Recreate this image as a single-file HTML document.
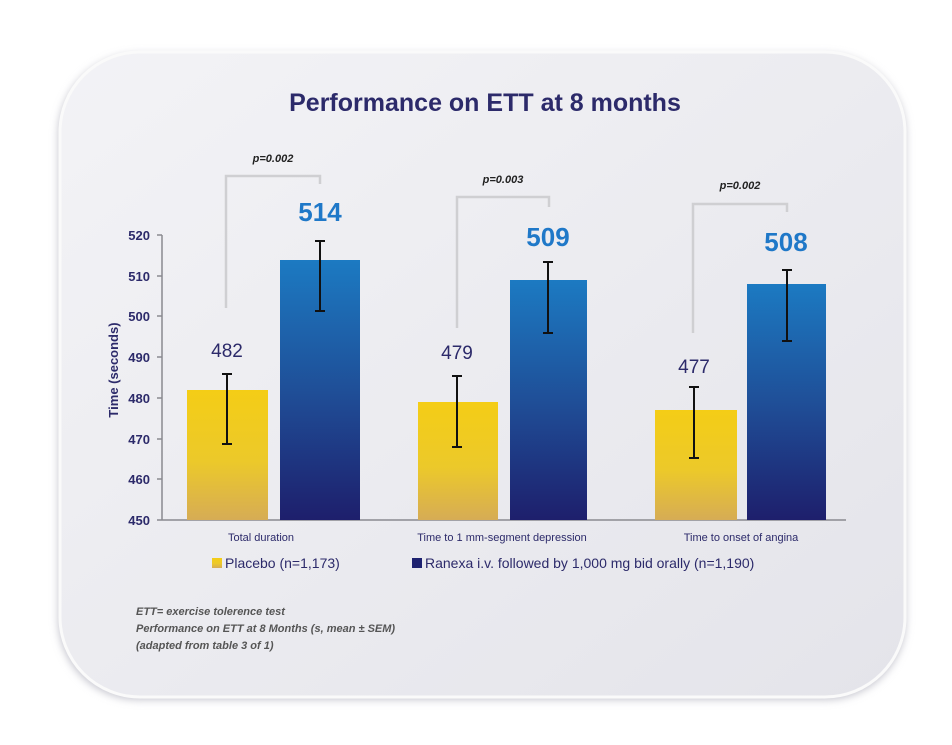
<!DOCTYPE html><html><head><style>body{margin:0;background:#fff}svg{display:block}</style></head><body>
<svg width="952" height="745" xmlns="http://www.w3.org/2000/svg" font-family="Liberation Sans, sans-serif">
<defs>
<linearGradient id="card" x1="0" y1="0" x2="1" y2="1"><stop offset="0" stop-color="#f3f3f6"/><stop offset="1" stop-color="#e4e4ea"/></linearGradient>
<linearGradient id="yel" x1="0" y1="0" x2="0" y2="1"><stop offset="0" stop-color="#f4cd16"/><stop offset="0.55" stop-color="#ecc92a"/><stop offset="1" stop-color="#d6ac55"/></linearGradient>
<linearGradient id="blu" x1="0" y1="0" x2="0" y2="1"><stop offset="0" stop-color="#1c7ac2"/><stop offset="0.5" stop-color="#1f4f98"/><stop offset="1" stop-color="#1e1f6c"/></linearGradient>
<filter id="sh" x="-10%" y="-10%" width="120%" height="120%"><feGaussianBlur stdDeviation="4"/></filter>
</defs>
<rect x="58" y="54" width="848" height="646" rx="80" fill="#c8c8d0" filter="url(#sh)"/>
<rect x="60" y="52" width="845" height="645" rx="80" fill="url(#card)" stroke="#fafafa" stroke-width="3"/>
<text x="485" y="111" text-anchor="middle" font-size="25" font-weight="bold" fill="#2c2a6a">Performance on ETT at 8 months</text>
<g font-size="13" font-weight="bold" fill="#2c2a6a" text-anchor="end">
<text x="150" y="240">520</text><text x="150" y="281">510</text><text x="150" y="321">500</text><text x="150" y="362">490</text><text x="150" y="403">480</text><text x="150" y="444">470</text><text x="150" y="484">460</text><text x="150" y="525">450</text></g>
<text transform="translate(118,370) rotate(-90)" text-anchor="middle" font-size="13" font-weight="bold" fill="#2c2a6a">Time (seconds)</text>
<g stroke="#8a8a90" stroke-width="1.5"><line x1="162" y1="235" x2="162" y2="520"/><line x1="157" y1="520" x2="846" y2="520"/>
<line x1="157" y1="235" x2="162" y2="235"/><line x1="157" y1="276" x2="162" y2="276"/><line x1="157" y1="316" x2="162" y2="316"/><line x1="157" y1="357" x2="162" y2="357"/><line x1="157" y1="398" x2="162" y2="398"/><line x1="157" y1="439" x2="162" y2="439"/><line x1="157" y1="479" x2="162" y2="479"/></g>
<rect x="187" y="390" width="81" height="130" fill="url(#yel)"/><rect x="280" y="260" width="80" height="260" fill="url(#blu)"/>
<rect x="418" y="402" width="80" height="118" fill="url(#yel)"/><rect x="510" y="280" width="77" height="240" fill="url(#blu)"/>
<rect x="655" y="410" width="82" height="110" fill="url(#yel)"/><rect x="747" y="284" width="79" height="236" fill="url(#blu)"/>
<g stroke="#111" stroke-width="2" fill="none">
<path d="M227 374V444M222 374h10M222 444h10"/><path d="M320 241V311M315 241h10M315 311h10"/>
<path d="M457 376V447M452 376h10M452 447h10"/><path d="M548 262V333M543 262h10M543 333h10"/>
<path d="M694 387V458M689 387h10M689 458h10"/><path d="M787 270V341M782 270h10M782 341h10"/></g>
<g stroke="#cfcfd2" stroke-width="2.5" fill="none">
<path d="M226 308V176H320V184"/><path d="M457 328V197H549V207"/><path d="M693 333V204H787V212"/></g>
<g font-size="11" font-style="italic" font-weight="bold" fill="#222" text-anchor="middle">
<text x="273" y="162">p=0.002</text><text x="503" y="183">p=0.003</text><text x="740" y="189">p=0.002</text></g>
<g font-size="19" fill="#2c2a6a" text-anchor="middle"><text x="227" y="357">482</text><text x="457" y="359">479</text><text x="694" y="373">477</text></g>
<g font-size="26" font-weight="bold" fill="#1f78c8" text-anchor="middle"><text x="320" y="221">514</text><text x="548" y="246">509</text><text x="786" y="251">508</text></g>
<g font-size="11" fill="#2c2a6a" text-anchor="middle"><text x="261" y="541">Total duration</text><text x="502" y="541">Time to 1 mm-segment depression</text><text x="741" y="541">Time to onset of angina</text></g>
<rect x="212" y="558" width="10" height="10" fill="url(#yel)"/><text x="225" y="568" font-size="14" fill="#2c2a6a">Placebo (n=1,173)</text>
<rect x="412" y="558" width="10" height="10" fill="#1e2270"/><text x="425" y="568" font-size="14" fill="#2c2a6a">Ranexa i.v. followed by 1,000 mg bid orally (n=1,190)</text>
<g font-size="11" font-style="italic" font-weight="bold" fill="#555"><text x="136" y="615">ETT= exercise tolerence test</text><text x="136" y="632">Performance on ETT at 8 Months (s, mean ± SEM)</text><text x="136" y="649">(adapted from table 3 of 1)</text></g>
</svg></body></html>
